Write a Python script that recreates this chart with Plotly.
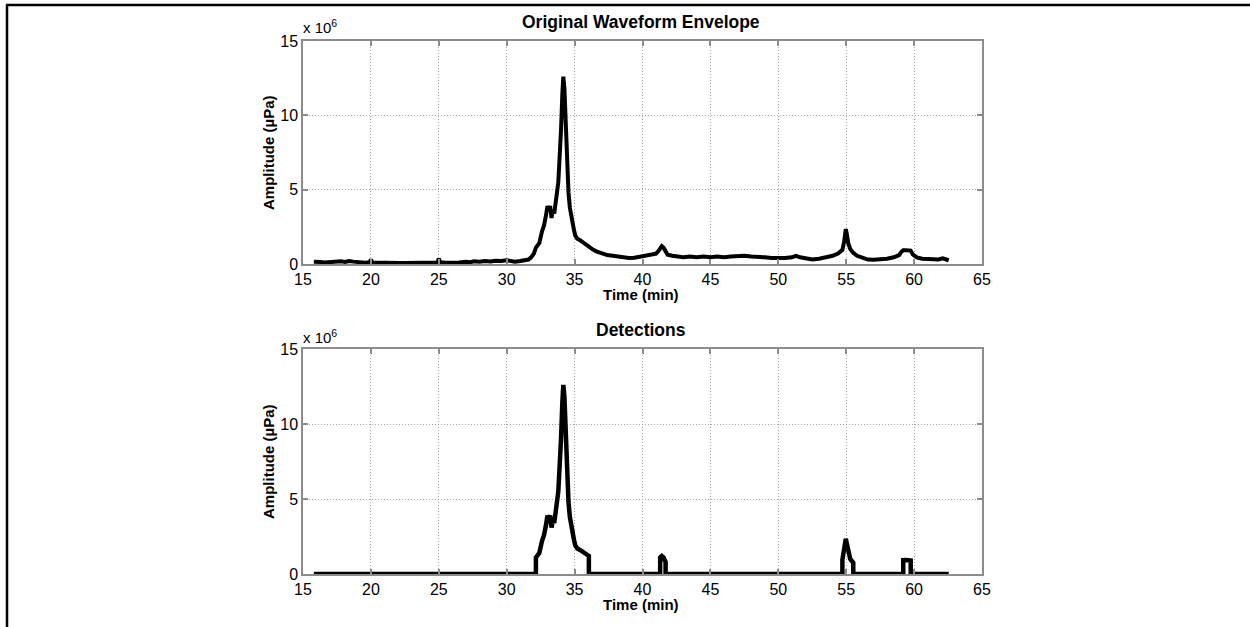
import numpy as np
import plotly.graph_objects as go

# ---------------- data (amplitude in units of 10^6 uPa) ----------------
time_min = [15.8, 16.0, 16.3, 16.6, 16.9, 17.2, 17.5, 17.8, 18.1, 18.4, 18.7, 19.0, 19.3, 19.6, 19.9,
            20.0, 20.1, 20.5, 21.0, 21.5, 22.0, 22.5, 23.0, 23.5, 24.0, 24.5, 24.9, 25.0, 25.1, 25.5,
            26.0, 26.5, 27.0, 27.3, 27.6, 28.0, 28.4, 28.8, 29.2, 29.6, 30.0, 30.3, 30.6, 31.0, 31.3,
            31.6, 31.8, 32.0, 32.15, 32.4, 32.6, 32.75, 32.9, 33.0, 33.1, 33.2, 33.3, 33.4, 33.5, 33.6,
            33.7, 33.8, 33.9, 34.0, 34.1, 34.17, 34.25, 34.35, 34.45, 34.55, 34.65, 34.8, 34.95, 35.05,
            35.2, 35.4, 35.6, 35.8, 36.05, 36.3, 36.6, 37.0, 37.4, 37.8, 38.2, 38.6, 39.0, 39.4, 39.8,
            40.2, 40.6, 41.0, 41.2, 41.3, 41.42, 41.55, 41.7, 41.85, 42.2, 42.6, 43.0, 43.5, 44.0, 44.5,
            45.0, 45.5, 46.0, 46.5, 47.0, 47.5, 48.0, 48.5, 49.0, 49.5, 50.0, 50.5, 51.0, 51.3, 51.6,
            52.0, 52.5, 53.0, 53.5, 54.0, 54.4, 54.72, 54.85, 54.97, 55.05, 55.15, 55.3, 55.52, 55.8,
            56.2, 56.6, 57.0, 57.5, 58.0, 58.5, 58.9, 59.05, 59.2, 59.4, 59.6, 59.75, 59.9, 60.2, 60.6,
            61.0, 61.4, 61.8, 62.1, 62.3, 62.55]
envelope = [0.15, 0.12, 0.14, 0.10, 0.13, 0.11, 0.15, 0.18, 0.14, 0.20, 0.16, 0.12, 0.10, 0.09, 0.12,
            0.30, 0.10, 0.08, 0.07, 0.06, 0.07, 0.06, 0.06, 0.07, 0.06, 0.07, 0.10, 0.35, 0.12, 0.08,
            0.08, 0.10, 0.15, 0.12, 0.18, 0.15, 0.20, 0.17, 0.22, 0.20, 0.25, 0.18, 0.15, 0.20, 0.25,
            0.30, 0.45, 0.70, 1.10, 1.40, 2.20, 2.60, 3.30, 3.90, 3.60, 3.90, 3.10, 3.60, 3.40, 4.40,
            4.80, 5.50, 7.00, 9.00, 11.5, 12.6, 11.8, 9.00, 6.50, 4.80, 3.80, 2.90, 2.30, 1.90,
            1.70, 1.60, 1.45, 1.35, 1.20, 1.00, 0.85, 0.70, 0.60, 0.55, 0.50, 0.45, 0.40, 0.42, 0.50,
            0.55, 0.62, 0.70, 0.90, 1.10, 1.20, 1.10, 0.80, 0.62, 0.55, 0.50, 0.45, 0.50, 0.45, 0.50,
            0.45, 0.50, 0.45, 0.50, 0.55, 0.55, 0.50, 0.50, 0.45, 0.40, 0.38, 0.40, 0.45, 0.55, 0.45,
            0.38, 0.30, 0.35, 0.45, 0.55, 0.70, 0.95, 1.50, 2.35, 2.00, 1.40, 1.00, 0.75, 0.55,
            0.40, 0.30, 0.28, 0.30, 0.35, 0.45, 0.60, 0.80, 0.92, 0.93, 0.92, 0.90, 0.65, 0.45, 0.35,
            0.32, 0.28, 0.30, 0.38, 0.35, 0.25]
detection_windows = [(32.15, 36.05), (41.3, 41.7), (54.72, 55.52), (59.2, 59.75)]
x_ticks = [15, 20, 25, 30, 35, 40, 45, 50, 55, 60, 65]
y_ticks = [0, 5, 10, 15]
y_tick_labels = ["0", "5", "10", "15"]

t = np.array(time_min)
env = np.array(envelope)

# build detection trace: zero outside windows, envelope inside (vertical edges)
det_x, det_y = [t[0]], [0.0]
for (s, e) in detection_windows:
    m = (t >= s - 1e-9) & (t <= e + 1e-9)
    det_x += [s] + list(t[m]) + [e]
    det_y += [0.0] + list(env[m]) + [0.0]
det_x.append(t[-1])
det_y.append(0.0)

# ---------------- geometry ----------------
W, H = 1250, 627
L, R, T, B = 303, 982, 41, 574
PW, PH = R - L, B - T

def px(x):
    return (x - L) / PW

def py(y):
    return (B - y) / PH

top_dom = [py(264), 1.0]
bot_dom = [0.0, py(349)]

fig = go.Figure()
line_style = dict(color="black", width=4)
fig.add_trace(go.Scatter(x=t, y=env, mode="lines", line=line_style,
                         xaxis="x", yaxis="y", showlegend=False))
fig.add_trace(go.Scatter(x=det_x, y=det_y, mode="lines", line=dict(color="black", width=4.5),
                         xaxis="x2", yaxis="y2", showlegend=False))

font_family = "Liberation Sans, Arial, sans-serif"
axis_common = dict(
    showline=True, mirror="ticks", linecolor="#8c8c8c", linewidth=1.5,
    ticks="inside", ticklen=5, tickcolor="#8c8c8c", tickwidth=1.5,
    showgrid=True, gridcolor="#a8a8a8", griddash="1px,2px", gridwidth=1,
    zeroline=False, tickfont=dict(family=font_family, size=16, color="black"),
)
xa = dict(axis_common, range=[15, 65], tickvals=x_ticks, ticktext=[str(v) for v in x_ticks])
ya = dict(axis_common, range=[0, 15], tickvals=y_ticks, ticktext=y_tick_labels)

fig.update_layout(
    width=W, height=H,
    margin=dict(l=L, r=W - R, t=T, b=H - B, pad=0),
    paper_bgcolor="white", plot_bgcolor="white",
    xaxis=dict(xa, domain=[0, 1], anchor="y"),
    yaxis=dict(ya, domain=top_dom, anchor="x"),
    xaxis2=dict(xa, domain=[0, 1], anchor="y2"),
    yaxis2=dict(ya, domain=bot_dom, anchor="x2"),
    font=dict(family=font_family, color="black"),
)

ann = []
def add_text(text, x, y, size=14, bold=False, angle=0, xanchor="center", yanchor="middle"):
    ann.append(dict(text=("<b>%s</b>" % text) if bold else text, x=px(x), y=py(y),
                    xref="paper", yref="paper", showarrow=False, textangle=angle,
                    xanchor=xanchor, yanchor=yanchor,
                    font=dict(family=font_family, size=size, color="black")))

add_text("Original Waveform Envelope", 641, 22, size=17.5, bold=True)
add_text("Detections", 641, 330, size=17.5, bold=True)
add_text("Time (min)", 641, 294, size=15, bold=True)
add_text("Time (min)", 641, 604, size=15, bold=True)
add_text("Amplitude (µPa)", 268, 153, size=15, bold=True, angle=-90)
add_text("Amplitude (µPa)", 268, 462, size=15, bold=True, angle=-90)
add_text("x 10<sup>6</sup>", 301, 27, size=15, xanchor="left")
add_text("x 10<sup>6</sup>", 301, 336, size=15, xanchor="left")
fig.update_layout(annotations=ann)

# page frame lines (top and left)
fig.update_layout(shapes=[
    dict(type="line", xref="paper", yref="paper", x0=px(6), x1=px(W), y0=py(5), y1=py(5),
         line=dict(color="black", width=2.5)),
    dict(type="line", xref="paper", yref="paper", x0=px(7), x1=px(7), y0=py(5), y1=py(H),
         line=dict(color="black", width=2.5)),
])

fig.write_html("out.html", config={"displayModeBar": False},
               post_script="document.body.style.margin='0';document.body.style.overflow='hidden';")
